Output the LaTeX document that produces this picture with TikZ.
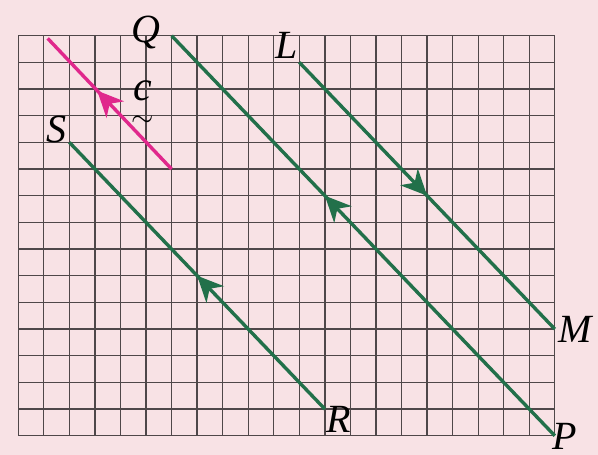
\documentclass[tikz,border=0pt]{standalone}
\usepackage{amsmath}
\usepackage{fontspec}
\setmainfont{Liberation Serif}
\usepackage{tikz}
\usetikzlibrary{arrows.meta,decorations.markings}
\definecolor{paperpink}{HTML}{F8E2E5}
\definecolor{gridgray}{HTML}{4F4749}
\definecolor{linegreen}{HTML}{22704A}
\definecolor{vecpink}{HTML}{E0288C}

\begin{document}
\begin{tikzpicture}[
  x=12.775pt, y=-13.335pt,
  gridline/.style={draw=gridgray, line width=0.65pt},
  vec/.style={line width=1.7pt},
  midarrow/.style={postaction={decorate}, decoration={markings, mark=at position #1 with {\arrow{Stealth[length=13pt,width=12pt,inset=4pt]}}}},
  lab/.style={font=\fontsize{20}{24}\selectfont\itshape, inner sep=0pt}
]
\fill[paperpink] (-0.716,-1.339) rectangle (22.69,15.72);
\useasboundingbox (-0.716,-1.339) rectangle (22.69,15.72);
\foreach \i in {0,...,21} \draw[gridline] (\i,0) -- (\i,15);
\foreach \j in {0,...,15} \draw[gridline] (0,\j) -- (21,\j);
\coordinate (Q) at (6,0);
\coordinate (P) at (21,15);
\coordinate (L) at (11,1);
\coordinate (M) at (21,11);
\coordinate (S) at (2,4);
\coordinate (R) at (12,14);
\coordinate (ctail) at (6,5);
\coordinate (chead) at (1.15,0.1);
\draw[linegreen, vec, midarrow=0.6] (P) -- (Q);
\draw[linegreen, vec, midarrow=0.5] (L) -- (M);
\draw[linegreen, vec, midarrow=0.5] (R) -- (S);
\draw[vecpink, vec, midarrow=0.6] (ctail) -- (chead);
\node[lab, anchor=base] (Qlab) at (5.0,0.24) {Q};
\node[lab, anchor=base] (Llab) at (10.5,0.84) {L};
\node[lab, anchor=base] (Slab) at (1.51,4.0) {S};
\node[lab, anchor=base] (Rlab) at (12.53,14.86) {R};
\node[lab, anchor=base] (Mlab) at (21.79,11.52) {M};
\node[lab, anchor=base] (Plab) at (21.4,15.5) {P};
\node[lab, font=\fontsize{21}{25}\selectfont\itshape] (clab) at (4.86,2.62) {$\underset{\scriptstyle\sim}{\textit{c}}$};
\end{tikzpicture}
\end{document}
